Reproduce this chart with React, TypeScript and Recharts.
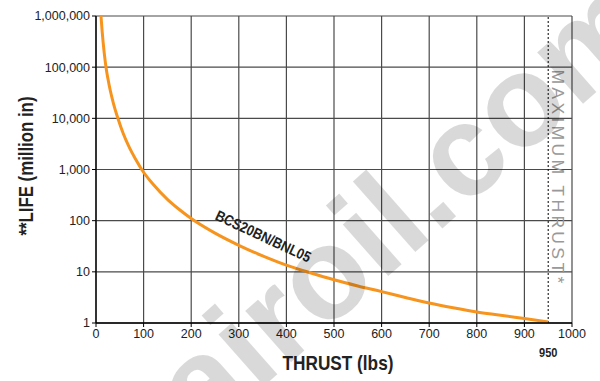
import React from 'react';
import { LineChart, Line, XAxis, YAxis, CartesianGrid, ReferenceLine } from 'recharts';

// thrust (lbs) and life (million in)
const thrust = [10.5, 13, 15, 18, 21, 25, 30, 37, 46, 57, 70, 83, 96, 120, 150, 175, 200, 250, 300, 350, 400, 450, 500, 550, 600, 650, 700, 750, 800, 850, 900, 950];
const life = [1000000, 490000, 305000, 166000, 100000, 60000, 35000, 19000, 10000, 5100, 2700, 1600, 1000, 513, 261, 165, 110, 57, 33, 20.5, 13.5, 9.6, 7, 5.3, 4.1, 3.15, 2.45, 1.98, 1.64, 1.42, 1.22, 1.05];

const xTicks = [0, 100, 200, 300, 400, 500, 600, 700, 800, 900, 1000];
const yTicks = [1, 10, 100, 1000, 10000, 100000, 1000000];

const seriesName = 'BCS20BN/BNL05';
const maxThrust = 950;

const data = thrust.map((t, i) => ({ thrust: t, life: life[i] }));

const sans = '"Liberation Sans", Arial, sans-serif';

const tickStyle = { fontSize: 12.5, fill: '#222', fontFamily: sans };

// "950" under the dashed line, bold and condensed
const MaxLabel = (props: any) => {
  const vb = props.viewBox || {};
  const x = vb.x ?? 0;
  const y = (vb.y ?? 0) + (vb.height ?? 0);
  return (
    <text
      transform={`translate(${x},${y + 34}) scale(0.85,1)`}
      textAnchor="middle"
      fontFamily={sans}
      fontWeight="bold"
      fontSize={13}
      fill="#222"
    >
      {maxThrust}
    </text>
  );
};

const App: React.FC = () => {
  return (
    <div style={{ position: 'absolute', left: 0, top: 0, width: 600, height: 381, background: '#fff' }}>
      <LineChart
        width={600}
        height={381}
        data={data}
        margin={{ top: 16, right: 28, left: 0, bottom: 28 }}
      >
        <CartesianGrid stroke="#4a4a4a" strokeWidth={1.2} />
        <XAxis
          dataKey="thrust"
          type="number"
          domain={[0, 1000]}
          ticks={xTicks}
          height={30}
          tick={tickStyle}
          tickSize={4}
          axisLine={{ stroke: '#000', strokeWidth: 1.3 }}
          tickLine={{ stroke: '#000' }}
        />
        <YAxis
          dataKey="life"
          scale="log"
          domain={[1, 1000000]}
          ticks={yTicks}
          allowDataOverflow
          width={96}
          tick={tickStyle}
          tickSize={4}
          tickFormatter={(v: number) => v.toLocaleString('en-US')}
          axisLine={{ stroke: '#000', strokeWidth: 1.3 }}
          tickLine={{ stroke: '#000' }}
        />
        <ReferenceLine
          x={maxThrust}
          stroke="#000"
          strokeWidth={1}
          strokeDasharray="2 2"
          label={<MaxLabel />}
        />
        <Line
          type="monotone"
          dataKey="life"
          stroke="#F7941D"
          strokeWidth={3}
          dot={false}
          isAnimationActive={false}
        />
      </LineChart>

      <svg
        width={600}
        height={381}
        style={{ position: 'absolute', left: 0, top: 0, pointerEvents: 'none' }}
      >
        <text
          transform="translate(33,166) rotate(-90) scale(0.8,1)"
          textAnchor="middle"
          fontFamily={sans}
          fontWeight="bold"
          fontSize={21}
          fill="#222"
        >
          **LIFE (million in)
        </text>
        <text
          transform="translate(338,370) scale(0.82,1)"
          textAnchor="middle"
          fontFamily={sans}
          fontWeight="bold"
          fontSize={21}
          fill="#222"
        >
          THRUST (lbs)
        </text>
        <text
          transform="translate(261,241) rotate(25) scale(0.85,1)"
          textAnchor="middle"
          fontFamily={sans}
          fontWeight="bold"
          fontSize={15}
          fill="#222"
        >
          {seriesName}
        </text>
        <text
          transform="translate(552,178) rotate(90) scale(1.1,1)"
          textAnchor="middle"
          fontFamily={sans}
          fontSize={16}
          letterSpacing={3}
          fill="#999"
        >
          MAXIMUM THRUST*
        </text>
        <text
          transform="translate(203,440) rotate(-41.5)"
          fontFamily={sans}
          fontWeight="bold"
          fontSize={130}
          fill="#000"
          fillOpacity={0.15}
        >
          airoil.com
        </text>
      </svg>
    </div>
  );
};

export default App;
